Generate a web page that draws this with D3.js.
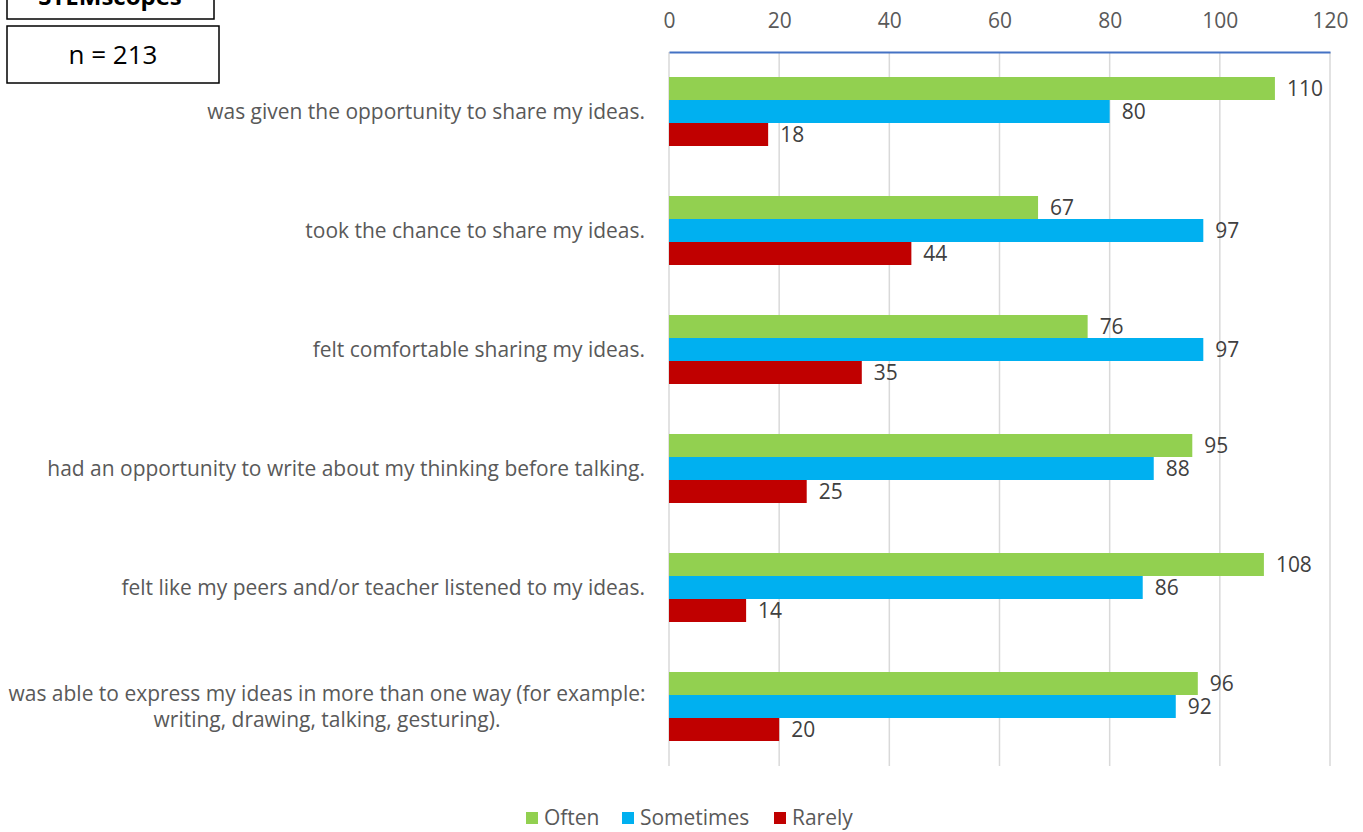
<!DOCTYPE html>
<html><head><meta charset="utf-8">
<script src="https://cdn.jsdelivr.net/npm/d3@7"></script>
<style>
body{margin:0;background:#fff;}
text{font-family:"Open Sans",Lato,sans-serif;}
</style></head>
<body><svg id="c" width="1363" height="832"></svg>
<script>
const categories = [
  ["was given the opportunity to share my ideas."],
  ["took the chance to share my ideas."],
  ["felt comfortable sharing my ideas."],
  ["had an opportunity to write about my thinking before talking."],
  ["felt like my peers and/or teacher listened to my ideas."],
  ["was able to express my ideas in more than one way (for example:", "writing, drawing, talking, gesturing)."]
];
const seriesNames = ["Often", "Sometimes", "Rarely"];
const often = [110, 67, 76, 95, 108, 96];
const sometimes = [80, 97, 97, 88, 86, 92];
const rarely = [18, 44, 35, 25, 14, 20];
const xTicks = [0, 20, 40, 60, 80, 100, 120];
const colors = ["#92D050", "#00B0F0", "#C00000"];

const svg = d3.select("#c");

// measure font size so the label widths match the reference (first label ~438px wide)
const probe = svg.append("text").attr("font-size", 20).text(categories[0][0]);
const w20 = probe.node().getComputedTextLength();
probe.remove();
const fs = Math.min(22, Math.max(16, 20 * 438 / w20));

const x = d3.scaleLinear().domain([0, 120]).range([669, 1330]);
const y = d3.scaleBand().domain(d3.range(categories.length)).range([52, 766]).paddingInner(50/119).paddingOuter(25/119);
const ySub = d3.scaleBand().domain(seriesNames).range([0, y.bandwidth()]);
const series = [often, sometimes, rarely];

// gridlines
svg.append("g").selectAll("line").data(xTicks).join("line")
  .attr("x1", d => x(d)).attr("x2", d => x(d)).attr("y1", 52).attr("y2", 766)
  .attr("stroke", "#D9D9D9").attr("stroke-width", 1.5);

// top axis
const ax = svg.append("g").attr("transform", "translate(0,52)")
  .call(d3.axisTop(x).tickValues(xTicks).tickSize(0).tickPadding(24));
ax.select(".domain").attr("stroke", "#4472C4").attr("stroke-width", 2);
ax.selectAll("text").attr("font-size", fs).attr("fill", "#595959").style("font-family", "'Open Sans', sans-serif");

// bars
series.forEach((vals, si) => {
  const g = svg.append("g");
  g.selectAll("rect").data(vals).join("rect")
    .attr("x", x(0))
    .attr("y", (d, i) => y(i) + ySub(seriesNames[si]))
    .attr("width", d => x(d) - x(0))
    .attr("height", ySub.bandwidth())
    .attr("fill", colors[si]);
  g.selectAll("text").data(vals).join("text")
    .attr("x", d => x(d) + 12)
    .attr("y", (d, i) => y(i) + ySub(seriesNames[si]) + ySub.bandwidth()/2)
    .attr("dy", "0.35em")
    .attr("font-size", fs).attr("fill", "#404040")
    .text(d => d);
});

// category labels
categories.forEach((lines, i) => {
  const cy = y(i) + y.bandwidth()/2;
  if (lines.length === 1) {
    svg.append("text").attr("x", 645).attr("y", cy).attr("dy", "0.35em")
      .attr("text-anchor", "end").attr("font-size", fs).attr("fill", "#595959").text(lines[0]);
  } else {
    const t = svg.append("text").attr("font-size", fs).attr("fill", "#595959").attr("text-anchor", "middle");
    lines.forEach((l, k) => {
      t.append("tspan").attr("x", 327).attr("y", cy + (k - (lines.length-1)/2) * 26).attr("dy", "0.35em").text(l);
    });
  }
});

// boxes
svg.append("rect").attr("x", 7).attr("y", -30).attr("width", 207).attr("height", 49)
  .attr("fill", "#fff").attr("stroke", "#000").attr("stroke-width", 1.5);
svg.append("text").attr("x", 110).attr("y", 5).attr("text-anchor", "middle")
  .attr("font-size", 24).attr("font-weight", "bold").attr("fill", "#000").text("STEMscopes");
svg.append("rect").attr("x", 7).attr("y", 26).attr("width", 212).attr("height", 57)
  .attr("fill", "#fff").attr("stroke", "#000").attr("stroke-width", 1.5);
svg.append("text").attr("x", 113).attr("y", 55).attr("dy", "0.35em").attr("text-anchor", "middle")
  .attr("font-size", 26).attr("fill", "#000").text("n = 213");

// legend
const legX = [526, 622, 774];
const leg = svg.append("g");
seriesNames.forEach((n, i) => {
  leg.append("rect").attr("x", legX[i]).attr("y", 812).attr("width", 12).attr("height", 12).attr("fill", colors[i]);
  leg.append("text").attr("x", legX[i] + 18).attr("y", 818).attr("dy", "0.35em")
    .attr("font-size", fs).attr("fill", "#595959").text(n);
});
</script></body></html>
